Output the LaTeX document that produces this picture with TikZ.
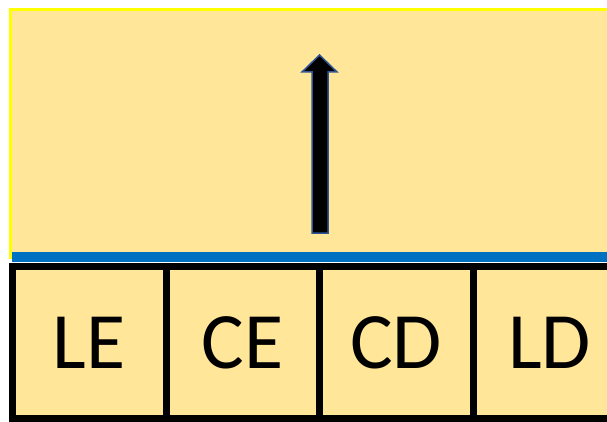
\documentclass[tikz,border=0pt]{standalone}
\usepackage{fontspec}
\setmainfont{Carlito}
\definecolor{paleyellow}{HTML}{FFE699}
\definecolor{brightyellow}{HTML}{FFFF00}
\definecolor{barblue}{HTML}{0070C0}
\definecolor{arrowblue}{HTML}{2F5597}
\tikzset{
  cellbox/.style={draw=black, line width=7pt, fill=paleyellow, minimum width=153.5pt, minimum height=152pt, inner sep=0pt, font=\fontsize{80}{80}\selectfont},
}
\begin{document}
\begin{tikzpicture}[x=1pt,y=-1pt]
\useasboundingbox (0,0) rectangle (607,422);
\clip (0,0) rectangle (607,422);
\fill[white] (0,0) rectangle (607,422);
% main yellow area
\draw[draw=brightyellow, line width=3pt, fill=paleyellow] (10.5,9.5) rectangle (640,257);
% blue bar
\fill[barblue] (12,252) rectangle (607,262);
% arrow
\draw[fill=black, draw=arrowblue, line width=1.5pt, line join=miter]
  (312,233) -- (312,72) -- (302,72) -- (319.5,55) -- (337,72) -- (328,72) -- (328,233) -- cycle;
% boxes
\node[cellbox] (le) at (89.25,342.5) {LE};
\node[cellbox] (ce) at (242.75,342.5) {CE};
\node[cellbox] (cd) at (396.25,342.5) {CD};
\node[cellbox] (ld) at (549.75,342.5) {LD};
\end{tikzpicture}
\end{document}
